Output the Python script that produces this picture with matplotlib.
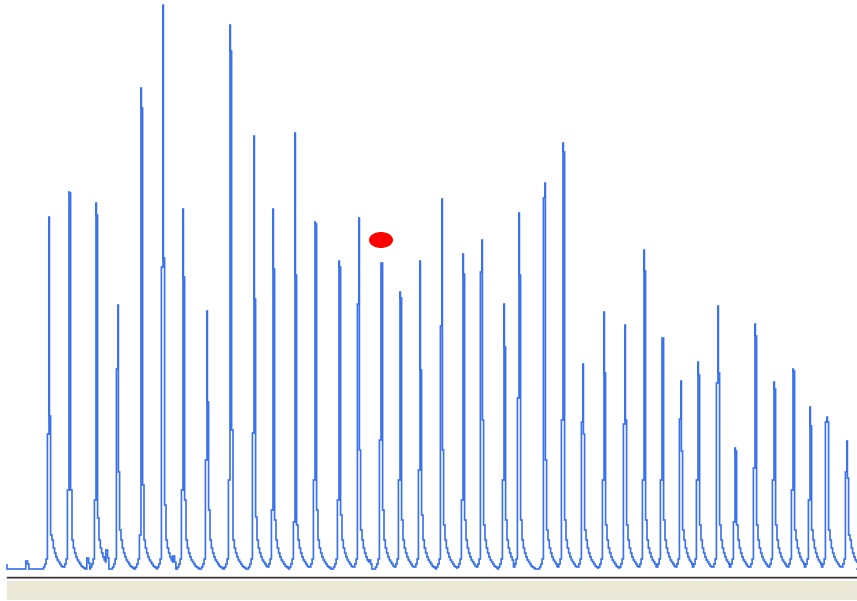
import matplotlib
matplotlib.use("Agg")
import matplotlib.pyplot as plt
from matplotlib.patches import Ellipse, Rectangle

# trace position of each peak apex
peak_pos = [49, 69, 96, 118, 141, 163, 183, 207, 230, 254,
            273, 295, 315, 339, 359, 381, 400, 420, 442, 463,
            482, 504, 519, 545, 563, 583, 604, 625, 644, 662,
            681, 698, 718, 735, 755, 774, 793, 810, 827, 847]
# apex height above baseline
peak_top = [353, 378, 367, 265, 482, 565, 361, 259, 545, 434,
            361, 437, 348, 309, 352, 307, 278, 309, 371, 316,
            330, 266, 357, 387, 427, 206, 258, 245, 320, 232,
            189, 208, 264, 122, 246, 188, 201, 163, 153, 129]
# sample just before the apex
peak_left = [136, 80, 70, 201, 35, 303, 80, 110, 90, 137,
             60, 48, 90, 70, 266, 130, 90, 100, 244, 70,
             298, 90, 172, 372, 150, 148, 90, 146, 90, 90,
             151, 90, 187, 48, 102, 90, 80, 70, 148, 98]
# sample just after the apex
peak_right = [154, 377, 355, 98, 462, 312, 293, 168, 519, 271,
              301, 295, 346, 303, 120, 307, 272, 200, 120, 296,
              150, 223, 295, 110, 418, 136, 197, 150, 299, 232,
              119, 195, 197, 119, 234, 181, 199, 144, 148, 92]
# next sample on the way down
peak_low = [35, 80, 52, 40, 85, 65, 70, 60, 140, 53,
            50, 45, 60, 55, 40, 60, 50, 55, 45, 50,
            45, 50, 50, 40, 50, 40, 45, 45, 50, 50,
            40, 45, 45, 45, 45, 45, 40, 40, 40, 35]
# decay of the signal after a peak
tail = [30, 22, 17, 13, 10, 8, 6, 4, 3, 2, 1]
# slow rise just before a peak
lead = [3, 6, 11]
base = 1

# small bumps on the baseline
bump_pos = [27, 88, 107, 174, 370]
bump_top = [9, 12, 20, 14, 10]
bump_mid = [6, 7, 12, 8, 6]

# marked point
marker_pos = 381
marker_val = 330


def peak_vertices(x0, top, left, right, low):
    xs, ys = [x0 - 5.5], [base]
    x = x0 - 5.5
    for v in lead:
        xs += [x, x + 1.3]
        ys += [v, v]
        x += 1.3
    xs += [x, x, x0, x0, x0 + 0.4, x0 + 0.4, x0 + 1.6, x0 + 1.6]
    ys += [ys[-1], left, left, top, top, right, right, low]
    x = x0 + 3
    for t in tail:
        xs += [x, x]
        ys += [ys[-1], t]
        x += 1.3
    return xs, ys


def bump_vertices(b, h, m):
    return ([b - 1.2, b - 1.2, b + 0.6, b + 0.6, b + 1.9, b + 1.9],
            [base, h, h, m, m, base])


events = []
for i in range(len(peak_pos)):
    vx, vy = peak_vertices(peak_pos[i], peak_top[i], peak_left[i], peak_right[i], peak_low[i])
    events.append((vx[0], vx, vy))
for b, h, m in zip(bump_pos, bump_top, bump_mid):
    vx, vy = bump_vertices(b, h, m)
    events.append((vx[0], vx, vy))
events.sort(key=lambda e: e[0])

xs = [7, 7]
ys = [5, base]
for start, vx, vy in events:
    # cut the previous tail where the next event begins
    while xs and xs[-1] >= start:
        xs.pop()
        ys.pop()
    if ys[-1] > vy[0]:
        vy = [ys[-1]] + vy[1:]
    xs += vx
    ys += vy
xs.append(857)
ys.append(ys[-1])

fig = plt.figure(figsize=(8.57, 6.01), dpi=100)
ax = fig.add_axes([0, 0, 1, 1])
ax.set_xlim(0, 857)
ax.set_ylim(-31, 570)
ax.set_axis_off()

ax.plot(xs, ys, color='#3a72ee', lw=1.2, solid_joinstyle='miter')
ax.add_patch(Ellipse((marker_pos, marker_val), 24, 16, color='#ff0000', lw=0))

# axis line and status strip under the trace
ax.plot([7, 857], [-7, -7], color='#2a2a2a', lw=1.0)
ax.plot([7, 857], [-8.2, -8.2], color='#9a9a9a', lw=0.8)
ax.add_patch(Rectangle((7, -29.5), 850, 19, color='#ece9d8', lw=0))

fig.savefig('out.png', dpi=100)
